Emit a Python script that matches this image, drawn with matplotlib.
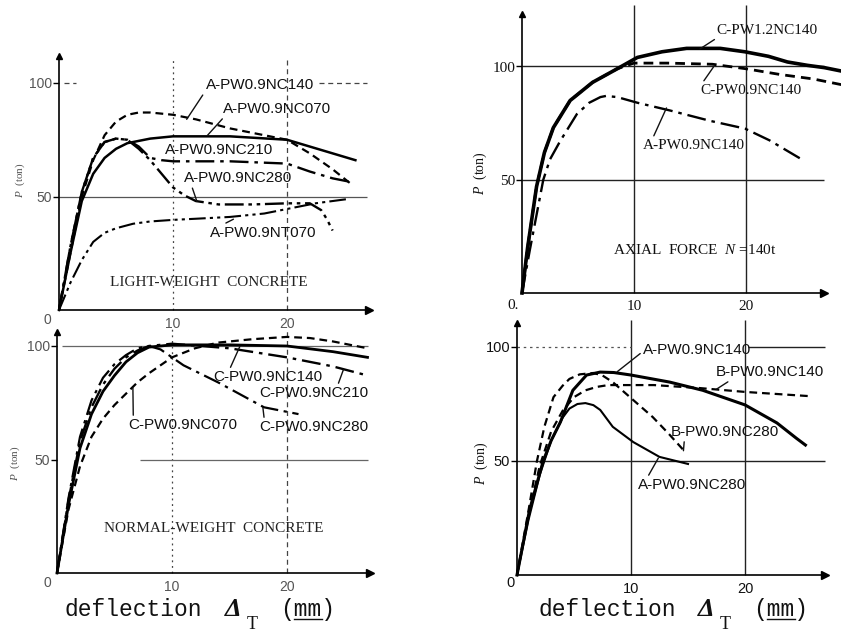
import matplotlib
matplotlib.use("Agg")
import matplotlib.pyplot as plt
from matplotlib.lines import Line2D

plt.rcParams['font.family'] = ['Liberation Sans', 'DejaVu Sans']
plt.rcParams['mathtext.fontset'] = 'custom'
plt.rcParams['mathtext.it'] = 'Liberation Serif:italic'
plt.rcParams['mathtext.rm'] = 'Liberation Serif'

# ---------------- data ----------------
# Top-left: light-weight concrete
tl_x_140 = [0, 1, 2, 3, 4, 5, 6, 7, 8, 10, 12, 15, 18, 20, 22, 24, 25.5]
tl_y_140 = [0, 25, 50, 66, 77, 83, 86, 87, 87, 86, 84, 80, 77, 75, 69, 62, 56]
tl_x_070 = [0, 1, 2, 3, 4, 5, 6, 8, 10, 15, 20, 22, 24, 26]
tl_y_070 = [0, 25, 48, 60, 67, 71, 73.5, 75.5, 76.5, 76.5, 75, 72, 69, 66]
tl_x_210 = [0, 1, 2, 3, 4, 5, 6, 7, 8, 9, 10, 15, 20, 22, 24, 25.5]
tl_y_210 = [0, 28, 52, 67, 74, 75.5, 75, 72, 67, 66, 65.5, 65.5, 64.5, 61, 58, 56.5]
tl_x_280 = [0, 1, 2, 3, 4, 5, 6, 7, 8, 9, 10, 11, 12, 14, 17, 20, 22, 23, 23.5, 24]
tl_y_280 = [0, 28, 52, 67, 74, 75.5, 75, 71, 66, 60, 54, 50.5, 48, 46.5, 46.5, 47, 47, 44, 40, 35]
tl_x_nt070 = [0, 1, 2, 3, 4, 5, 6.5, 8, 10, 12, 15, 18, 20, 22.5, 25.5]
tl_y_nt070 = [0, 12, 22, 30, 34, 36, 38, 39, 39.7, 40.2, 41, 42.5, 44.5, 47, 49]

# Bottom-left: normal-weight concrete
bl_x_140 = [0, 1, 2, 3, 4, 5, 6, 7, 8, 10, 15, 20, 24, 27]
bl_y_140 = [0, 30, 55, 70, 80, 87, 93, 97, 99.5, 100.5, 100.5, 100, 97.5, 95]
bl_x_210 = [0, 1, 2, 3, 4, 5, 6, 7, 8, 10, 15, 20, 24, 27]
bl_y_210 = [0, 32, 58, 73, 83, 90, 95, 98, 100, 101, 99, 95, 91, 87]
bl_x_280 = [0, 1, 2, 3, 4, 5, 6, 7, 8, 9, 10, 11, 12, 14, 16, 18, 20, 21]
bl_y_280 = [0, 33, 60, 76, 86, 92, 96, 99, 100, 98.5, 95, 91.5, 89, 84, 78.5, 73, 71, 70]
bl_x_070 = [0, 1, 2, 3, 4, 5, 6, 7, 8, 10, 12, 14, 17, 20, 22, 24, 27]
bl_y_070 = [0, 28, 47, 60, 68, 74, 79, 84, 88, 95, 99, 101.5, 103, 104, 103.5, 102, 99]

# Top-right: axial force N = 140t
tr_x_12 = [0, 0.5, 1.3, 2, 2.8, 4.3, 6.3, 8.5, 10.3, 12.5, 14.7, 17.7, 19.9, 22, 23.7, 25.5, 27, 28.5]
tr_y_12 = [0, 20, 47, 62, 73, 85, 93, 99, 104, 106.5, 108, 108, 106.5, 104.5, 102, 100.5, 99.5, 98]
tr_x_09 = [0, 0.5, 1.3, 2, 2.8, 4.3, 6.3, 8.5, 10, 13, 17, 20, 23, 26, 28.5]
tr_y_09 = [0, 20, 47, 62, 73, 85, 93, 99, 101.5, 101.5, 101, 99, 96.5, 94.5, 92]
tr_x_a09 = [0, 0.7, 1.9, 2.5, 3.4, 4.9, 6, 7, 7.5, 8.5, 10.3, 13.2, 16.8, 19.9, 22.1, 24.8]
tr_y_a09 = [0, 19, 50, 59, 67, 79, 84, 86.5, 87, 86.5, 84, 80.6, 76, 72.6, 67.4, 59.5]

# Bottom-right
br_x_a140 = [0, 1.1, 2.3, 3, 3.8, 4.9, 6.1, 7.3, 8.5, 10, 13.4, 16.3, 20, 22.8, 24.5, 25.3]
br_y_a140 = [0, 28.5, 50, 59, 67, 81, 87.7, 89, 88.8, 87.7, 84.6, 81, 74.6, 66.7, 60, 57]
br_x_b140 = [0, 1, 2, 3, 4, 5, 6, 7, 8, 12, 16, 20, 25.5]
br_y_b140 = [0, 26, 48, 63, 72, 78, 81, 82.5, 83.3, 83.3, 82, 80.3, 78.5]
br_x_b280 = [0, 1, 1.75, 2.4, 3.2, 4, 4.6, 5.5, 6.7, 7.5, 8.4, 10, 11.9, 13.3, 14.6]
br_y_b280 = [0, 28, 50, 65, 78, 83, 86, 88, 88.6, 87.5, 84.6, 77.6, 69.3, 62, 54.8]
br_x_a280 = [0, 1, 2, 3, 4, 4.6, 5.3, 6, 6.7, 7.3, 8.4, 10.2, 12.5, 15]
br_y_a280 = [0, 24, 44, 59, 69, 73, 75, 75.4, 74.5, 72.4, 65, 58.3, 51.8, 48.7]

x_ticks = [10, 20]
y_ticks = [50, 100]
grid_x = [10, 20]
grid_y = [50, 100]

# ---------------- figure ----------------
W, H = 841, 633
fig = plt.figure(figsize=(W / 100, H / 100), dpi=100)

DASH = (0, (3.5, 2.2))
DASHDOT = (0, (8, 2.5, 1.5, 2.5))
DASHDOTDOT = (0, (8, 2, 1.5, 2, 1.5, 2))


def make_ax(x0, sx, y0, sy, box):
    L, R, T, B = box
    ax = fig.add_axes([L / W, (H - B) / H, (R - L) / W, (B - T) / H])
    ax.set_xlim((L - x0) / sx, (R - x0) / sx)
    ax.set_ylim((y0 - B) / sy, (y0 - T) / sy)
    ax.patch.set_alpha(0)
    for s in ['top', 'right']:
        ax.spines[s].set_visible(False)
    return ax


def setup_axes(ax, xend, ytop, tickcolor, tickfont, ticksize, zero_xy, lw=1.2):
    ax.spines['left'].set_position(('data', 0))
    ax.spines['bottom'].set_position(('data', 0))
    ax.spines['left'].set_bounds(0, ytop)
    ax.spines['bottom'].set_bounds(0, xend)
    ax.spines['left'].set_linewidth(lw)
    ax.spines['bottom'].set_linewidth(lw)
    ax.set_xticks(x_ticks)
    ax.set_yticks(y_ticks)
    ax.tick_params(axis='x', length=0, pad=5, labelsize=ticksize, labelcolor=tickcolor)
    ax.tick_params(axis='y', length=4, width=1, pad=1, labelsize=ticksize, labelcolor=tickcolor)
    for lab in ax.get_xticklabels() + ax.get_yticklabels():
        lab.set_fontfamily(tickfont)
    ax.plot([xend], [0], marker='>', color='k', ms=6, clip_on=False)
    ax.plot([0], [ytop], marker='^', color='k', ms=5, clip_on=False)
    ax.text(zero_xy[0], zero_xy[1], zero_xy[2], ha='center', va='center',
            fontsize=ticksize, color=tickcolor, fontfamily=tickfont)


def label(ax, text, xy, xytext, relpos, fs=11, family='Liberation Sans'):
    ax.annotate(text, xy=xy, xytext=xytext, ha='center', va='center', fontsize=fs,
                fontfamily=family, color='#111111',
                arrowprops=dict(arrowstyle='-', lw=1.0, color='#111111',
                                shrinkA=0, shrinkB=0, relpos=relpos))


# ---- Top-left ----
ax1 = make_ax(59, 11.4, 310, 2.27, (30, 380, 40, 326))
setup_axes(ax1, 27.2, 112, '#555555', 'Liberation Sans', 10, (-1.0, -4.2, '0'))
ax1.vlines(grid_x[0], 0, 110, colors='#444444', lw=0.9, linestyles=(0, (1.5, 3)))
ax1.vlines(grid_x[1], 0, 110, colors='#444444', lw=0.9, linestyles=(0, (4, 3)))
ax1.hlines(grid_y[1], 22.8, 27, colors='#444444', lw=0.9, linestyles=(0, (4, 3)))
ax1.hlines(grid_y[1], 0.4, 1.5, colors='#444444', lw=0.9, linestyles=(0, (4, 3)))
ax1.hlines(grid_y[0], 0, 27, colors='#555555', lw=0.9)
ax1.plot(tl_x_140, tl_y_140, color='k', lw=1.6, linestyle=DASH)
ax1.plot(tl_x_070, tl_y_070, color='k', lw=1.8)
ax1.plot(tl_x_210, tl_y_210, color='k', lw=1.7, linestyle=DASHDOT)
ax1.plot(tl_x_280, tl_y_280, color='k', lw=1.7, linestyle=DASHDOTDOT)
ax1.plot(tl_x_nt070, tl_y_nt070, color='k', lw=1.5, linestyle=DASHDOTDOT)
label(ax1, 'A-PW0.9NC140', (11.2, 84), (17.6, 99), (0.0, 0.1))
label(ax1, 'A-PW0.9NC070', (13.0, 76.8), (19.1, 88.5), (0.02, 0.0))
label(ax1, 'A-PW0.9NC210', (10.0, 65.7), (14.0, 70.5), (0.1, 0.0))
label(ax1, 'A-PW0.9NC280', (12.1, 47.8), (15.7, 58), (0.07, 0.0))
label(ax1, 'A-PW0.9NT070', (15.3, 40.0), (17.9, 34), (0.1, 1.0))
ax1.text(13.1, 12.3, 'LIGHT-WEIGHT  CONCRETE', ha='center', va='center',
         fontsize=11, fontfamily='Liberation Serif', color='#222222')
ax1.text(-3.4, 57, r'$P$  (ton)', rotation=90, ha='center', va='center',
         fontsize=8, fontfamily='Liberation Serif', color='#555555')

# ---- Bottom-left ----
ax2 = make_ax(57, 11.5, 573, 2.27, (30, 380, 326, 592))
setup_axes(ax2, 27.2, 106, '#555555', 'Liberation Sans', 10, (-0.8, -4.4, '0'))
ax2.vlines(grid_x[0], 0, 108, colors='#444444', lw=0.9, linestyles=(0, (1.5, 3)))
ax2.vlines(grid_x[1], 0, 108, colors='#444444', lw=0.9, linestyles=(0, (4, 3)))
ax2.hlines(grid_y[1], 0.4, 27, colors='#666666', lw=0.9)
ax2.hlines(grid_y[0], 7.2, 27, colors='#666666', lw=0.9)
ax2.plot(bl_x_070, bl_y_070, color='k', lw=1.6, linestyle=DASH)
ax2.plot(bl_x_280, bl_y_280, color='k', lw=1.6, linestyle=DASHDOT)
ax2.plot(bl_x_210, bl_y_210, color='k', lw=1.7, linestyle=DASHDOT)
ax2.plot(bl_x_140, bl_y_140, color='k', lw=2.0)
label(ax2, 'C-PW0.9NC140', (15.9, 99.8), (18.3, 86.3), (0.15, 1.0))
label(ax2, 'C-PW0.9NC210', (24.9, 89.5), (22.3, 79.3), (0.72, 1.0))
label(ax2, 'C-PW0.9NC070', (6.6, 81.5), (10.9, 65.2), (0.05, 1.0))
label(ax2, 'C-PW0.9NC280', (17.9, 73), (22.3, 64.3), (0.05, 1.0))
ax2.text(13.6, 19.8, 'NORMAL-WEIGHT  CONCRETE', ha='center', va='center',
         fontsize=11, fontfamily='Liberation Serif', color='#222222')
ax2.text(-3.6, 48.5, r'$P$  (ton)', rotation=90, ha='center', va='center',
         fontsize=8, fontfamily='Liberation Serif', color='#555555')

# ---- Top-right ----
ax3 = make_ax(522, 11.2, 293, 2.265, (470, 841, 0, 312))
setup_axes(ax3, 27.0, 123, '#111111', 'Liberation Serif', 11, (-0.8, -5.3, '0.'))
ax3.vlines(grid_x, 0, 127, colors='#222222', lw=1.0)
ax3.hlines(grid_y, 0, 27, colors='#222222', lw=1.0)
ax3.plot(tr_x_a09, tr_y_a09, color='k', lw=1.7, linestyle=DASHDOT)
ax3.plot(tr_x_09, tr_y_09, color='k', lw=2.0, linestyle=DASH)
ax3.plot(tr_x_12, tr_y_12, color='k', lw=2.6)
label(ax3, 'C-PW1.2NC140', (15.9, 107.8), (21.9, 116), (0.02, 0.0), family='Liberation Serif')
label(ax3, 'C-PW0.9NC140', (17.1, 99.8), (20.4, 89.6), (0.02, 1.0), family='Liberation Serif')
label(ax3, 'A-PW0.9NC140', (12.9, 81.7), (15.3, 65.3), (0.1, 1.0), family='Liberation Serif')
ax3.text(15.4, 19, r'AXIAL  FORCE  $N$ =140t', ha='center', va='center',
         fontsize=11, fontfamily='Liberation Serif', color='#111111')
ax3.text(-3.75, 53, r'$P$  (ton)', rotation=90, ha='center', va='center',
         fontsize=10, fontfamily='Liberation Serif', color='#111111')

# ---- Bottom-right ----
ax4 = make_ax(517, 11.4, 575, 2.28, (470, 841, 312, 596))
setup_axes(ax4, 27.0, 110.5, '#111111', 'Liberation Sans', 10.5, (-0.6, -3.6, '0'))
ax4.vlines(grid_x, 0, 112, colors='#222222', lw=1.0)
ax4.hlines(grid_y[1], 0, 10, colors='#555555', lw=0.9, linestyles=(0, (2, 3)))
ax4.hlines(grid_y[1], 20.3, 27, colors='#222222', lw=1.0)
ax4.hlines(grid_y[0], 0, 27, colors='#222222', lw=1.0)
ax4.plot(br_x_b140, br_y_b140, color='k', lw=1.6, linestyle=DASH)
ax4.plot(br_x_b280, br_y_b280, color='k', lw=1.6, linestyle=DASH)
ax4.plot(br_x_a280, br_y_a280, color='k', lw=1.5)
ax4.plot(br_x_a140, br_y_a140, color='k', lw=2.2)
label(ax4, 'A-PW0.9NC140', (8.8, 89.2), (15.8, 98.7), (0.0, 0.4))
label(ax4, 'B-PW0.9NC140', (17.5, 81.5), (22.2, 89), (0.15, 0.0))
label(ax4, 'B-PW0.9NC280', (14.6, 54.5), (18.2, 62.7), (0.13, 0.0))
label(ax4, 'A-PW0.9NC280', (12.4, 51.3), (15.4, 39.5), (0.08, 1.0))
ax4.text(-3.1, 49, r'$P$  (ton)', rotation=90, ha='center', va='center',
         fontsize=10, fontfamily='Liberation Serif', color='#111111')


# ---- x labels ----
def xlabel(x_defl, x_delta, x_mm):
    yb = (H - 616) / H
    fig.text(x_defl / W, yb, 'deflection', fontsize=16.5, fontfamily='Liberation Mono',
             ha='left', va='baseline', color='#111111')
    fig.text(x_delta / W, yb, '\u0394', fontsize=19, fontfamily='Liberation Serif',
             style='italic', weight='bold', ha='left', va='baseline', color='#111111')
    fig.text((x_delta + 22) / W, (H - 629) / H, 'T', fontsize=13,
             fontfamily='Liberation Serif', ha='left', va='baseline', color='#111111')
    fig.text(x_mm / W, yb, '(mm)', fontsize=16.5, fontfamily='Liberation Mono',
             ha='left', va='baseline', color='#111111')
    fig.add_artist(Line2D([(x_mm + 14) / W, (x_mm + 42) / W], [(H - 619) / H] * 2,
                          color='#111111', lw=1.0))


xlabel(65, 225, 280)
xlabel(538, 698, 753)

fig.savefig('out.png', dpi=100)
